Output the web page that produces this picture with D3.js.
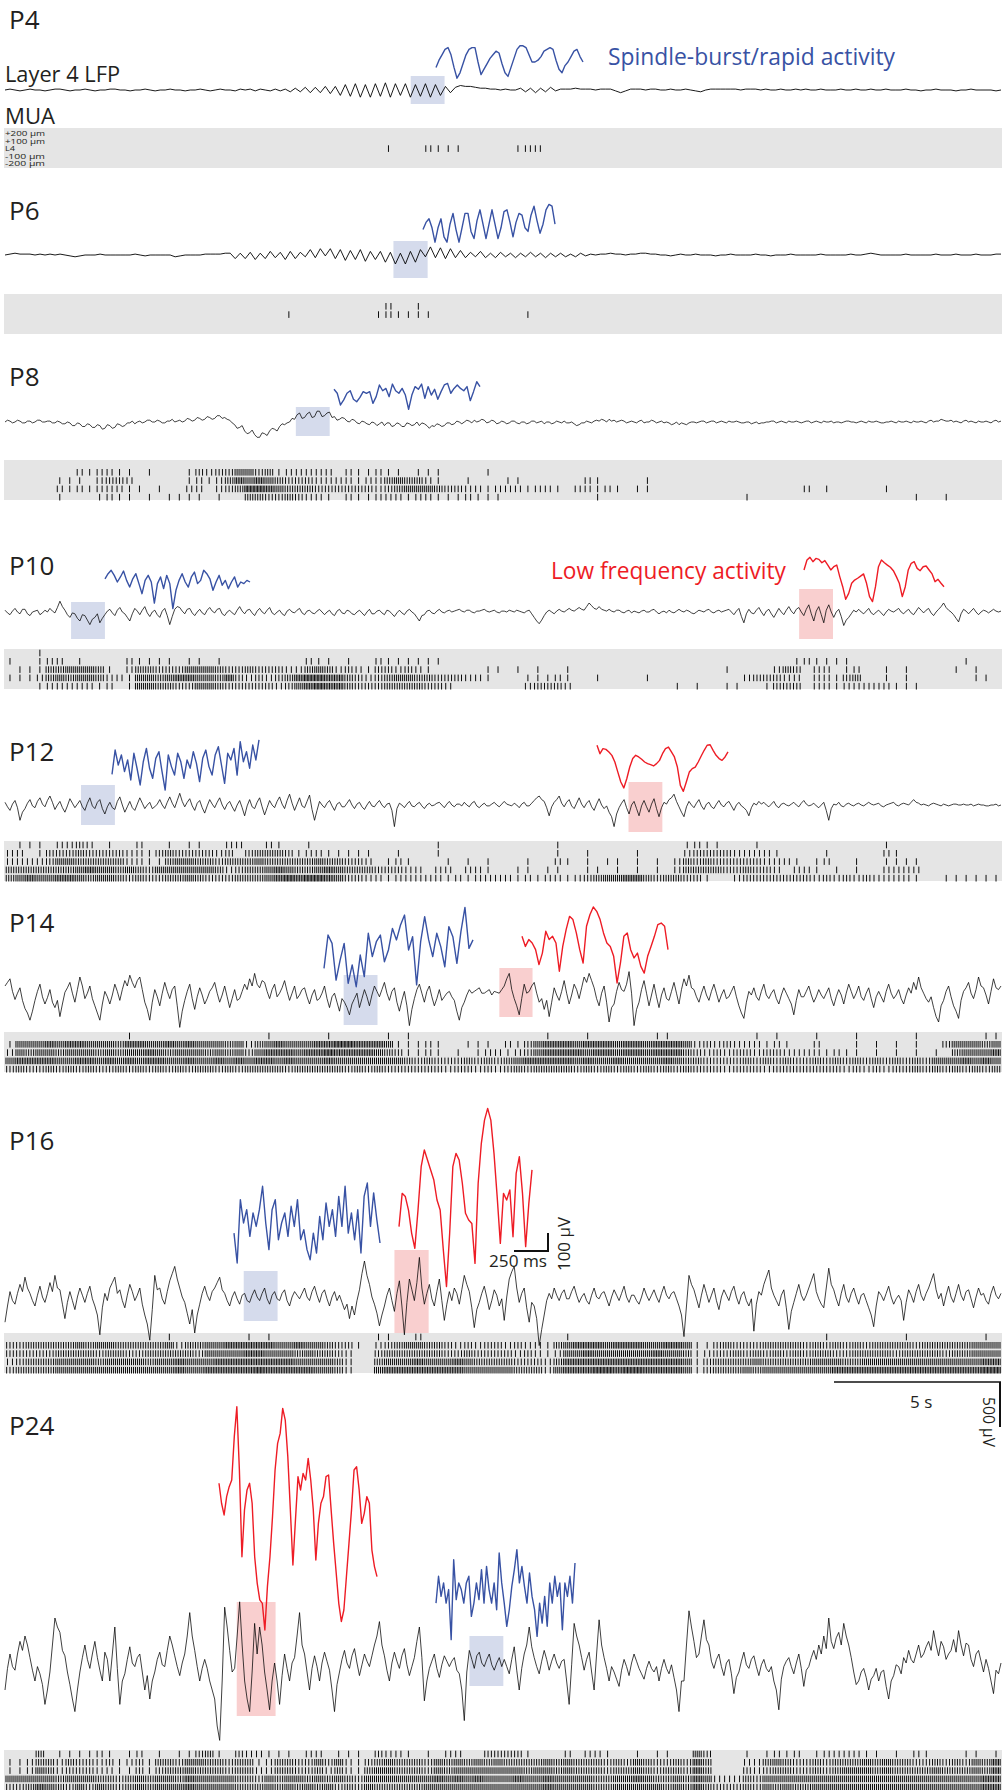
<!DOCTYPE html>
<html>
<head>
<meta charset="utf-8">
<script src="https://cdn.jsdelivr.net/npm/d3@7"></script>
<style>
  html, body { margin: 0; padding: 0; background: #fff; }
  svg text { font-family: "Open Sans", "Noto Sans", sans-serif; fill: #231f20; }
</style>
</head>
<body>
<div id="chart"></div>
<script>
// Recording length (s) shown by every row
var TRACE_SECONDS = 30;
var MUA_BIN_S = 0.3;          // each raster digit = spike count in a 0.3 s bin
var LFP_UNIT_UV = 10;         // LFP arrays are stored in units of 10 µV

// ---------- layer 4 LFP (units of 10 µV), evenly spaced over the 30 s ----------
var P4_LFP = [0,1,0,-1,0,1,0,0,-1,0,1,1,0,-1,0,0,1,0,-1,0,
  0,1,1,0,0,-1,0,0,1,0,-1,0,0,1,0,0,-1,0,0,1,
  0,-1,0,1,0,0,-1,1,0,1,-1,1,0,-1,1,-1,1,
  -2,2,-2,3,-3,3,-3,4,-4,4,
  -6,6,-7,7,-8,6,-8,7,-7,8,-8,7,-6,7,-8,6,-7,7,-8,6,-6,
  4,-3,3,5, 4,4,3,2,2,1,1,0,1,0,0,
  2,-2,2,-3,2,-2,3,-1,1, 1,1,2,1,1,1,0,1,1,1, -1,-3,-1,
  1,1,1,0,1,1,0,0,1,0,0,1,0,-1,-2,0,1,1,1,1,1,1,0,1,1,
  1,0,1,0,0,1,0,0,1,0,1,0,0,1,0,0,0,1,0,0,1,0,0,1,0,
  0,1,0,0,0,1,0,0,-1,0,0,1,0,0,0,-1,0,0,1,0,0,0,0,-1,0];

var P6_LFP = [0,1,2,1,1,1,0,1,0,1,0,1,0,-1,-2,-1,0,0,0,1,
  0,0,0,0,0,0,1,0,-1,0,0,0,0,0,-2,-1,0,0,0,0,
  1,1,1,1,2,2,
  -4,2,-4,3,-5,2,-4,4,-3,3,-5,4,-4,3,
  -2,6,-3,7,-1,7,
  -4,6,-6,5,-5,6,-7,4,-5,4,
  -8,3,-10,2,-10,4,-8,6,
  -2,9,-3,8,-4,7,-3,5,
  -3,3,-2,4,-3,2,-3,3,-2,2,-3,2,-2,3,-2,2,-3,2,-2,2,-2,1,-2,2,-1,1,0,
  1,1,2,1,1,0,1,1,2,2,1,1,0,0,-1,0,1,0,0,1,0,
  0,0,-1,0,0,1,0,0,0,0,1,0,0,-1,0,0,0,1,0,0,0,0,0,1,0,0,0,0,0,1,
  0,0,1,2,1,0,0,0,0,0,1,0,0,0,0,0,1,0,0,0,1,0,0,0,1,0,0,0,1,1];

var P8_LFP = [0,2,1,-1,0,2,1,-1,-1,1,1,-1,0,2,2,0,0,1,1,-1,-1,1,0,-2,
  -2,0,-1,-4,-4,-1,-2,-5,-5,-2,-3,-6,-6,-3,-4,-8,-7,-3,-4,-7,-6,-2,-3,-5,-4,-1,
  -1,1,-2,0,1,-1,0,2,2,0,0,2,1,-1,-1,1,1,3,0,1,2,0,
  1,4,3,1,2,5,4,2,3,6,5,3,4,7,7,4,5,3,
  2,-1,-3,-7,-6,-4,-10,-13,-12,-9,-14,-17,-17,-12,-13,-15,-10,-7,-8,-10,-5,-2,-3,-1,0,4,
  3,8,10,4,5,9,11,5,6,12,12,6,7,10,11,5,
  6,2,3,5,4,1,0,3,2,-1,-2,1,0,-2,-3,0,-1,-4,-2,0,
  -4,-1,-1,-5,-4,-1,-2,-5,-5,-1,-2,-4,-3,0,-4,-1,-2,-4,-7,-4,
  -5,-2,-3,-5,-4,-1,-1,-3,-2,1,0,-2,0,2,1,-1,2,0,1,3,
  2,-1,0,2,1,-2,-1,1,0,-2,-1,1,1,-1,-2,0,0,-2,-1,1,1,-1,0,1,-2,0,0,-2,-1,1,0,-1,1,-1,-1,0,-2,-4,-3,-1,-1,1,0,-1,1,2,
  1,3,2,0,3,1,2,0,1,2,1,-1,0,1,0,-1,1,2,-1,0,0,2,1,-1,0,1,-1,0,-1,-3,-2,0,-3,-1,-2,-3,-1,0,0,-1,0,1,
  1,-1,0,1,1,-1,0,1,0,-1,1,0,0,1,0,-1,-1,0,0,-2,-1,0,-2,-1,-1,0,0,1,1,-1,0,1,0,-1,1,0,0,1,0,-1,
  0,1,1,-1,0,1,0,-1,1,0,0,1,-1,0,0,-1,0,1,1,0,0,-1,0,1,0,-1,1,0,0,1,0,-1,-1,0,0,1,0,-1,1,0,
  0,1,0,-1,1,0,0,1,0,-1,1,2,0,1,1,3,2,1,1,2,0,1,0,-1,1,2,0,1,0,-1,1,0,0,1,0,-1,1,2,0,1];

var P10_LFP = [2,-1,-3,1,4,0,-2,3,3,-2,-4,0,1,2,-3,-1,2,0,4,1,-1,5,12,6,2,-3,
  -6,-1,-2,-7,-10,-3,-4,-9,-14,-8,-6,-2,-12,-7,-3,1,
  3,-1,-4,2,5,0,-2,-6,-10,-2,4,1,-3,2,6,-1,-5,0,2,-3,-6,1,4,-4,-14,-5,3,6,
  5,1,-2,3,4,-1,-4,0,3,-1,-3,2,5,1,-1,3,4,-2,-4,0,2,-1,-3,2,6,1,-2,2,3,-1,-4,1,4,0,-2,2,5,-1,-3,0,2,-2,-4,1,3,0,-1,2,4,-1,-3,1,2,-1,-2,1,3,0,
  -3,0,2,-2,-4,1,3,-1,-2,2,1,-2,-3,0,2,-1,-4,0,3,-2,-2,1,2,-1,-3,2,1,-2,-5,-1,2,-1,-3,1,3,0,-2,-6,-10,-4,-3,1,2,-1,-2,1,3,0,-1,1,
  2,0,1,2,3,1,0,2,2,0,-1,1,1,2,3,1,0,1,2,0,-1,1,1,0,2,1,0,2,1,0,-1,1,2,-2,
  -6,-10,-13,-9,-4,0,
  2,0,-2,1,3,1,0,2,4,2,1,3,5,3,2,6,10,7,4,3,6,3,2,1,
  3,1,0,2,2,0,-1,1,2,-1,1,0,-1,1,2,0,0,2,3,0,-2,0,1,-1,2,0,-1,1,3,1,0,2,1,-1,-2,0,2,1,0,2,3,0,-1,1,2,0,1,2,3,0,
  -3,1,4,-5,-12,-2,3,-1,-2,2,5,0,-4,1,3,-2,-6,-1,4,0,-3,2,6,1,-2,3,5,0,
  -4,3,8,-2,-10,1,6,-3,-12,2,8,0,-6,0,3,-5,
  -15,-9,-6,-2,2,0,
  3,0,-2,1,4,-1,-3,0,2,-1,-4,0,3,1,0,2,4,0,-2,1,3,-1,-3,1,5,2,-1,2,4,-1,-4,0,3,6,10,5,2,0,-3,-7,-11,-2,3,1,-2,1,4,0,-3,0,2,1,-1,1,3,1,0,1];

var P12_LFP = [3,-2,-6,1,5,-3,-17,-8,-4,2,6,-1,-3,4,8,1,-2,5,10,3,-5,0,4,-3,-8,-1,7,2,-3,1,5,-2,
  -6,2,8,-1,-4,3,6,-4,-10,-2,3,-3,-5,4,9,0,-8,-2,4,-3,-6,1,8,2,-4,0,3,-4,-2,1,
  6,0,-4,3,9,2,-3,5,13,4,-2,3,7,-1,-6,2,5,-3,-9,-1,6,1,-3,3,8,0,-5,1,4,-2,
  -7,0,5,-3,-12,-1,6,-2,-4,3,8,-2,-11,-3,5,0,-3,4,9,1,-4,5,12,2,-6,1,8,-1,-3,4,11,-5,-17,-6,
  4,0,-3,2,5,-1,-6,1,3,-2,-2,2,6,0,-4,1,3,-2,-5,0,4,-1,-2,2,5,0,-3,1,2,-6,-24,-4,
  2,0,-3,1,4,-1,-2,1,3,-1,-4,0,2,-1,0,2,3,0,-3,1,4,0,-2,1,1,-1,3,0,-2,2,4,-1,-3,0,2,-1,-1,1,3,0,-2,1,4,1,0,-1,2,0,-3,1,3,-1,-1,2,5,8,10,6,4,-3,-12,-2,
  3,6,10,2,-2,3,6,-1,-4,2,8,1,-3,2,5,-2,-6,1,7,0,-4,-1,-8,-13,-24,-10,
  -3,2,6,-3,-10,0,4,-4,-12,-1,5,-2,-8,1,7,-4,-13,-3,3,1,6,8,12,4,
  -2,-8,-13,-2,4,0,-3,2,6,-1,-5,1,3,-2,-4,1,5,0,-2,2,4,-1,-6,0,3,-1,-3,-6,-12,-3,2,0,4,1,
  3,0,-2,1,4,-1,-3,1,2,0,-1,1,3,0,-2,2,5,1,-1,0,2,-1,-3,0,3,-6,-17,-4,1,0,3,-1,-2,1,2,0,-1,1,
  2,0,-1,1,3,1,0,1,2,-1,-2,0,1,2,3,0,-1,1,2,1,0,3,6,3,2,0,1,0,-1,1,2,1,0,-1,1,0,-1,0,1,1,0,0,1,0,0,1,-1,0,1,0,0,-1,-1,0,0,1,-1,0];

var P14_LFP = [10,14,18,4,-5,2,8,-6,-15,-20,-28,-18,-6,4,12,-2,-10,-3,6,-8,
  -14,-6,-24,-10,3,8,14,2,-8,6,20,10,-4,2,10,-4,-12,-20,-28,-10,
  4,-2,-10,0,12,4,-6,6,16,10,22,14,8,16,20,6,-8,-16,-28,-8,
  6,-2,-12,2,14,4,-4,6,10,-12,-36,-18,-6,4,12,-4,-16,-2,8,0,
  -10,-4,4,8,14,2,-8,0,10,-2,-14,-4,6,-6,-4,4,12,6,18,10,
  24,12,8,16,14,4,-4,6,12,-2,2,8,16,4,-6,2,10,-4,0,6,
  8,-2,-10,0,6,-6,-4,2,10,-4,-14,-2,2,-8,-18,-4,-8,-14,-22,-10,
  -4,2,-14,-4,6,-2,-12,0,10,4,-2,6,14,2,-6,4,8,-8,-18,-6,
  4,-12,-34,-16,-4,6,12,2,-8,4,10,-2,-12,-4,6,-6,-2,2,4,-2,
  -6,-18,-28,-14,-8,0,6,2,4,6,8,2,2,4,6,0,4,3,2,6,
  10,18,24,6,-4,-12,-22,-4,12,2,4,10,14,2,-8,-4,-16,-6,-24,-8,
  8,0,-6,4,16,2,-10,0,12,6,-4,8,20,14,24,16,8,-4,-12,2,
  10,-8,-30,-14,-10,4,14,6,4,12,26,2,-34,-16,-8,6,16,2,-12,0,
  12,-2,-14,0,8,-4,-6,4,14,2,-10,6,18,10,22,8,6,-2,-8,2,
  10,0,-6,4,12,2,-8,0,6,-4,-2,4,10,-2,-12,-20,-26,-8,4,0,
  8,-2,-6,4,12,0,-4,2,6,-4,-10,0,8,2,-4,-10,-22,-6,6,-2,
  -2,4,10,0,-8,-2,6,0,-4,2,8,-4,-12,-2,6,0,-10,2,12,4,
  -4,2,10,-2,-6,2,8,-4,-14,-2,4,-2,-8,4,12,2,-4,0,6,-4,
  -10,0,8,2,14,6,20,8,2,-4,-8,-2,-14,-24,-30,-12,-6,4,10,-2,
  -12,-18,-26,-6,4,8,14,2,-4,6,20,10,8,0,-10,4,18,8,6,10];

var P16_LFP = [-28,-10,6,-4,-8,4,14,6,22,10,4,-4,-10,2,12,0,-6,4,16,6,
  24,10,8,-8,-24,-6,6,-4,-14,0,10,2,-6,4,12,-2,-10,-20,-42,-12,
  4,-4,10,16,22,4,8,-4,-12,2,14,6,-4,2,10,-8,-20,-30,-48,-14,
  24,8,10,-2,-8,6,18,26,34,20,10,0,-6,-18,-30,-14,-40,-20,-8,4,
  12,2,-4,6,10,16,22,8,4,-4,-10,0,6,-2,-8,2,4,-4,-6,2,
  8,0,-4,4,10,-2,-8,2,6,-2,-4,4,8,-4,-10,0,6,2,-2,4,
  10,0,-4,6,12,2,-6,4,8,-2,-10,0,6,-4,2,-6,-14,-8,-24,-10,
  -20,-4,8,26,40,24,14,0,-8,-18,-32,-20,-10,2,10,-4,-16,4,18,-10,
  -42,-6,20,8,-4,16,44,10,-8,4,14,-2,-10,6,20,-4,-26,-8,6,-4,
  10,4,-8,8,24,14,6,-12,-34,-14,-6,4,12,0,-14,-4,8,2,-10,-2,
  -26,0,20,28,34,10,-6,4,10,-12,-28,-6,-10,-24,-54,-36,-20,-4,4,-2,
  10,2,-4,4,8,-2,-2,6,12,2,-6,0,4,-4,-8,2,10,0,-2,4,
  6,-2,-10,0,8,2,-4,4,12,0,-6,2,2,-4,-8,0,10,2,-4,2,
  8,0,-6,4,12,2,-2,4,6,-2,-10,-20,-44,-10,24,14,8,-2,-12,2,
  14,4,-6,2,10,-4,-14,0,8,2,-4,6,12,0,-8,2,6,-4,-10,-2,
  -38,-8,6,2,14,22,30,10,2,-4,-10,2,8,-12,-36,-16,-6,4,14,2,
  -4,2,10,18,26,6,-2,-8,-12,10,32,14,8,-2,-10,4,14,0,-6,4,
  10,0,-8,2,4,-4,-12,-20,-33,-10,6,2,-4,4,12,0,-8,-2,2,-4,
  -26,-6,8,2,-6,6,14,2,-4,4,10,18,26,8,-2,4,-10,2,12,0,
  -6,4,14,2,-4,6,8,-2,-12,0,10,2,4,-4,-8,4,12,2,-2,4];

var P24_LFP = [-30,-6,10,-4,-8,10,24,14,30,20,6,-8,-20,-4,-12,-24,-46,-30,-10,20,
  50,40,34,14,8,-10,-24,-40,-54,-30,-10,6,20,4,-6,10,24,6,-8,-20,
  12,4,-20,10,40,-6,-46,-20,-12,4,18,0,-4,6,10,-10,-30,-14,-40,-20,
  -10,4,12,-2,-4,14,30,20,8,-4,-14,0,10,30,56,30,14,-4,-20,-6,
  4,-6,-20,-30,-40,-70,-86,-20,62,40,14,-10,-6,30,68,20,-20,-40,-54,-10,
  44,10,40,20,-10,-30,-52,-20,0,-20,-46,-14,10,-6,-20,0,6,30,56,20,
  10,-10,-30,-6,8,-4,-20,0,12,2,-8,-30,-54,-24,-10,4,14,0,-6,8,
  16,0,-14,-2,10,2,-4,8,20,30,46,20,8,-8,-20,0,12,2,-6,8,
  16,-2,-14,-4,6,24,40,6,-42,-20,-6,2,10,-6,-16,-2,8,2,-4,2,
  6,-8,-12,-30,-64,-10,14,4,-6,8,12,0,-4,4,10,-2,-8,0,6,-4,
  4,-4,-12,4,18,-8,-30,-6,10,20,40,18,6,-4,-12,2,14,4,-8,2,
  10,0,-6,2,4,-20,-46,-2,44,30,20,6,-8,4,12,-10,-30,10,48,20,
  6,-6,-20,-4,-10,-18,-26,-8,4,-4,-14,0,10,2,-6,-12,-18,-6,2,-6,
  -10,-4,-20,-6,4,-6,-12,-2,-16,-30,-54,-20,-20,20,58,40,24,6,10,30,
  48,26,20,2,-6,4,10,-4,-14,0,4,-12,-34,-16,-10,2,12,-2,-6,4,
  8,-4,-14,-2,4,-6,-10,-4,-20,-30,-52,-18,-4,2,6,-4,-12,0,10,-6,
  -26,-8,-4,6,14,4,20,10,30,16,50,24,16,28,34,20,44,30,20,6,
  -10,-24,-20,-10,-6,-16,-30,-18,-14,-6,-20,-10,-8,-26,-40,-20,-14,-2,-4,-12,
  6,0,14,4,0,10,20,6,10,18,24,14,36,20,8,24,18,4,10,14,
  26,12,36,20,8,22,20,4,-4,10,14,2,-10,4,-6,-20,-34,-8,-12,0];

// ---------- expanded 1 s windows (µV) ----------
var P4_SPINDLE = [-30,10,40,70,80,40,-30,-90,-60,-10,40,70,80,80,0,-70,-40,-10,20,40,60,50,-10,-60,-80,-30,20,70,90,90,80,40,0,0,10,30,60,70,80,70,10,-40,-60,-20,0,30,60,70,30,0];
var P6_SPINDLE = [-20,20,40,-10,-90,-10,40,-60,-90,10,70,-20,-90,-10,70,70,-30,-70,30,90,10,-70,10,90,10,-70,-10,80,90,20,-60,20,70,60,-10,-30,60,110,30,-40,10,90,120,110,10];
var P8_SPINDLE = [15,-7,-72,-44,-7,7,-40,-54,-30,2,-7,2,-63,-26,39,7,20,-26,44,7,-7,20,-17,-96,-17,30,15,44,-35,30,-17,15,-40,2,39,48,-7,20,39,20,7,30,-48,2,57,30];
var P10_SPINDLE = [18,46,65,37,0,28,61,9,-28,18,46,-9,-65,9,37,0,-117,-9,28,-37,37,-9,-148,-46,9,46,0,-28,28,55,-9,9,65,46,18,-46,0,37,-18,9,-37,0,28,-28,0,-9,9,0];
var P10_SLOW = [28,83,98,74,92,87,68,80,55,28,46,55,-9,-65,-135,-102,-46,-28,-18,-6,6,-46,-120,-148,-65,46,83,68,55,43,24,-9,-46,-120,-65,28,65,74,37,24,46,50,28,6,-37,-24,-46,-65];
var P12_SPINDLE = [-52,83,0,56,-37,28,-83,65,-18,-111,18,92,-18,-74,37,74,-37,-139,56,-9,-56,65,18,-74,28,-18,74,9,-92,37,83,-9,-56,56,102,0,-102,65,28,92,-56,130,18,74,-18,111,28,139];
var P12_SLOW = [93,46,74,70,56,37,0,-56,-111,-144,-93,-28,19,37,28,15,0,-9,-15,-22,-9,9,46,74,83,56,28,-28,-130,-163,-111,-56,-37,-28,0,33,65,93,96,65,37,19,9,28,56];
var P14_SPINDLE = [-102,83,37,-167,-56,37,-185,-83,-204,-28,-148,93,-37,46,83,-65,0,120,56,139,194,0,74,-194,46,185,56,-37,93,19,-93,130,74,-74,102,237,9,56];
var P14_SLOW = [37,-19,19,0,-37,-120,-56,65,19,37,0,-157,-19,74,148,130,56,-37,-111,93,157,200,176,130,56,0,-19,-74,-222,-111,37,56,-37,-83,-56,-130,-167,-74,-19,37,102,111,93,-37];
var P16_SPINDLE = [-56,-222,130,0,74,-74,56,-19,74,204,0,-148,74,130,-93,0,56,-74,93,-19,130,-93,-37,-148,-204,-56,-167,37,-93,111,-19,74,-74,148,-19,204,-56,56,-93,74,-167,148,222,-19,167,19,-111];
var P16_SLOW = [-148,37,19,-56,-185,-268,-56,185,278,222,167,111,0,-56,-278,-481,-185,185,259,222,93,-74,-111,-130,-352,93,315,444,509,444,259,19,-241,37,0,56,-204,148,241,37,-259,-19,167];
var P24_SLOW = [204,93,28,130,185,222,463,629,278,-204,56,167,204,93,-204,-352,-444,-463,-611,-370,-204,19,278,426,481,620,555,352,56,-250,0,241,167,259,222,342,222,56,-222,-19,93,130,241,250,56,-130,-296,-463,-564,-500,-315,-130,56,278,296,167,-19,37,130,93,-167,-259,-315];
var P24_SPINDLE = [-56,93,-19,56,-56,19,-259,185,-37,56,19,-56,56,93,-130,-56,56,-37,130,-56,148,19,-56,56,-93,222,56,-56,-185,-93,37,130,241,56,148,37,-56,111,-19,-93,-241,-56,-167,-19,-185,56,-56,93,-19,56,-204,56,-19,93,-56,167];

// ---------- MUA raster: 5 depths (+200, +100, L4, -100, -200 µm), spikes per 0.3 s bin ----------
var EMPTY = "0000000000 0000000000 0000000000 0000000000 0000000000 0000000000 0000000000 0000000000 0000000000 0000000000";
var P4_MUA = [EMPTY, EMPTY,
  "0000000000 0000000000 0000000000 0000000010 0021110000 0122000000 0000000000 0000000000 0000000000 0000000000",
  EMPTY, EMPTY];
var P6_MUA = [EMPTY,
  "0000000000 0000000000 0000000000 0000000020 0100000000 0000000000 0000000000 0000000000 0000000000 0000000000",
  "0000000000 0000000000 0000000010 0000000121 1110000000 0010000000 0000000000 0000000000 0000000000 0000000000",
  EMPTY, EMPTY];
var P8_MUA = [EMPTY,
  "0000000212 2110100013 2335534122 2220211211 0111000010 0000000000 0000000000 0000000000 0000000000 0000000000",
  "0000011102 3320000012 1246565433 3222212245 4421001000 1100000021 0000100000 0000000000 0000000000 0000000000",
  "0000021212 2211010022 0234776544 4333333234 5554332212 2212210221 2101100000 0000000000 2010000010 0000000000",
  "0000010001 2110101111 0100443343 2210211222 1221112111 0000000001 0000000000 0000100000 0000000000 0100100000"];
var P10_MUA = [
  "0001000000 0000000000 0000000000 0000000000 0000000000 0000000000 0000000000 0000000000 0000000000 0000000000",
  "1001220100 0021111011 0100000000 2110100211 1111000000 0000000000 0000000000 0000000001 2111100000 0000001000",
  "0111445554 1024433355 5433433322 4542321332 3210000011 0101001000 0000000000 0010000243 0220120010 1000010100",
  "1112454554 2215545665 5463232346 7766432345 5443332210 0011121001 0000100000 0000233322 0221340010 1000000110",
  "0001222221 2015544335 5433333235 6766433344 4433200000 0023332000 0000000101 0011001333 0221222221 1100000000"];
var P12_MUA = [
  "0111022320 1002001011 0022002100 1000000000 0001000000 0000010000 0000000012 1100010000 0000000010 0000000000",
  "2201333433 3322134333 3230344431 2211111001 0001000000 0000010010 0001000023 3332222100 0010000021 0000000000",
  "2222355444 4422114554 4344454444 4544332012 1000101010 0010021010 1101010243 4333332221 0120010011 1100000000",
  "4444444565 5454355555 5423445654 4565444333 2202202210 0110110011 0101010244 4433433202 2101010022 2200000000",
  "4565566545 5434334454 3334445676 7765332212 2222121222 2121221234 5566434433 1002333333 3232323222 2100111111"];
var P14_MUA = [
  "0000000000 0010000000 0000001000 0010000010 1000000000 0000100010 0000011000 0000010100 0100010000 0100000011",
  "1555656655 5466556565 5545245655 5667766651 1121001110 2135666566 6566566652 3232221210 0200010101 0100355545",
  "2545545554 5455654555 4545356665 6676666543 1121010122 1235666656 6566566643 2323323322 2212110101 0101045556",
  "5666655665 6565665565 5656566565 5565555555 4343334343 4566666565 5655556544 3333434343 3434343434 3435556565",
  "3433434343 3434343434 4343444434 4444343433 3333233232 3434444343 4343434343 3323332333 3333232323 3434343434"];
var P16_MUA = [
  "0000000000 0000001000 0000101000 0000000110 0200000000 0000001000 0000000000 0000000000 0010000000 1000000010",
  "3344444545 5444445244 5566666556 5543310234 5544323233 2322145666 5666556651 1343334444 3434343444 4344444555",
  "3333344443 4433444443 5555665554 5443200344 4444334333 3232125565 5555565541 2334343434 3443344443 4444344555",
  "2344455554 5555455655 5666666665 5554200455 5655565444 4333246666 6666666651 3444454444 4555445555 5555555566",
  "3444455555 5555555655 6666676666 6554200566 6666665555 5444256667 7677666651 3444545555 5556666666 6666666677"];
var P24_MUA = [
  "0004011112 1012010113 4103221110 2201110322 1010220033 3310002022 1001011005 3000101212 0122221101 0210001101",
  "1124424332 3123144355 4434412443 3535213454 4435454545 4444545444 3435433436 4000224543 3434445454 4334343546",
  "1125423332 2113134454 4434422443 3424214554 4435455555 5545545444 3445434436 4000323443 3434555454 4445444546",
  "5555545554 4345455465 5554435455 4545435555 5556565655 5655655554 4556544546 5222435555 5555555555 5555555566",
  "3346543535 4345455565 5554445454 5453435444 4455555555 5555655554 4555554546 4333435454 4555555555 5555555566"];

var DEPTH_LABELS = ["+200 \u00b5m", "+100 \u00b5m", "L4", "-100 \u00b5m", "-200 \u00b5m"];

// ---------- layout ----------
var BLUE = "#3852a4", RED = "#ee1c25";
var BLUE_BOX = "#d5dbec", RED_BOX = "#f9cfcf";
var LFP_PX_PER_UV = 0.09, INSET_PX_PER_UV = 0.18, INSET_PX_PER_S = 136;

var panels = [
  {name: "P4", labelY: 29, lfp: P4_LFP, lfpY: 90, mua: P4_MUA, muaY: 128,
   windows: [{c: BLUE_BOX, t0: 12.22, t1: 13.24, y0: 76, y1: 104}],
   insets: [{c: BLUE, data: P4_SPINDLE, x0: 436, x1: 583, y: 62}]},
  {name: "P6", labelY: 220, lfp: P6_LFP, lfpY: 255, mua: P6_MUA, muaY: 294,
   windows: [{c: BLUE_BOX, t0: 11.70, t1: 12.73, y0: 241, y1: 278}],
   insets: [{c: BLUE, data: P6_SPINDLE, x0: 423, x1: 555, y: 226}]},
  {name: "P8", labelY: 386, lfp: P8_LFP, lfpY: 422, mua: P8_MUA, muaY: 460,
   windows: [{c: BLUE_BOX, t0: 8.76, t1: 9.78, y0: 407, y1: 436}],
   insets: [{c: BLUE, data: P8_SPINDLE, x0: 334, x1: 480, y: 392}]},
  {name: "P10", labelY: 575, lfp: P10_LFP, lfpY: 612, mua: P10_MUA, muaY: 649,
   windows: [{c: BLUE_BOX, t0: 1.99, t1: 3.01, y0: 602, y1: 639},
             {c: RED_BOX, t0: 23.92, t1: 24.94, y0: 589, y1: 639}],
   insets: [{c: BLUE, data: P10_SPINDLE, x0: 105, x1: 250, y: 582},
            {c: RED, data: P10_SLOW, x0: 804, x1: 944, y: 575}]},
  {name: "P12", labelY: 761, lfp: P12_LFP, lfpY: 805, mua: P12_MUA, muaY: 841,
   windows: [{c: BLUE_BOX, t0: 2.29, t1: 3.31, y0: 785, y1: 825},
             {c: RED_BOX, t0: 18.78, t1: 19.80, y0: 782, y1: 832}],
   insets: [{c: BLUE, data: P12_SPINDLE, x0: 112, x1: 259, y: 765},
            {c: RED, data: P12_SLOW, x0: 597, x1: 728, y: 762}]},
  {name: "P14", labelY: 932, lfp: P14_LFP, lfpY: 995, mua: P14_MUA, muaY: 1032,
   windows: [{c: BLUE_BOX, t0: 10.20, t1: 11.22, y0: 975, y1: 1025},
             {c: RED_BOX, t0: 14.89, t1: 15.89, y0: 968, y1: 1017}],
   insets: [{c: BLUE, data: P14_SPINDLE, x0: 324, x1: 473, y: 950},
            {c: RED, data: P14_SLOW, x0: 522, x1: 668, y: 943}]},
  {name: "P16", labelY: 1150, lfp: P16_LFP, lfpY: 1297, mua: P16_MUA, muaY: 1333,
   windows: [{c: BLUE_BOX, t0: 7.19, t1: 8.21, y0: 1271, y1: 1321},
             {c: RED_BOX, t0: 11.73, t1: 12.76, y0: 1250, y1: 1333}],
   insets: [{c: BLUE, data: P16_SPINDLE, x0: 234, x1: 380, y: 1223},
            {c: RED, data: P16_SLOW, x0: 399, x1: 532, y: 1200}]},
  {name: "P24", labelY: 1435, lfp: P24_LFP, lfpY: 1663, mua: P24_MUA, muaY: 1750,
   windows: [{c: RED_BOX, t0: 6.98, t1: 8.15, y0: 1602, y1: 1716},
             {c: BLUE_BOX, t0: 13.99, t1: 15.01, y0: 1636, y1: 1686}],
   insets: [{c: RED, data: P24_SLOW, x0: 219, x1: 377, y: 1520},
            {c: BLUE, data: P24_SPINDLE, x0: 436, x1: 575, y: 1593}]}
];

var W = 1002, H = 1790;
var svg = d3.select("#chart").append("svg")
  .attr("width", W).attr("height", H)
  .attr("viewBox", "0 0 " + W + " " + H);

var x = d3.scaleLinear().domain([0, TRACE_SECONDS]).range([5, 1001]);

panels.forEach(function(p) {
  var g = svg.append("g").attr("class", "panel-" + p.name);

  g.append("text").attr("x", 9).attr("y", p.labelY)
    .style("font-size", "26px").text(p.name);

  // MUA band
  g.append("rect").attr("x", 4).attr("y", p.muaY)
    .attr("width", W - 4).attr("height", 40).attr("fill", "#e5e5e5");

  p.mua.forEach(function(row, r) {
    var bins = row.replace(/ /g, "");
    var cy = p.muaY + 4 + r * 8.3;
    var ticks = [];
    for (var b = 0; b < bins.length; b++) {
      var k = +bins[b];
      for (var j = 0; j < k; j++) ticks.push((b + (j + 0.5) / k) * MUA_BIN_S);
    }
    g.append("g").selectAll("line").data(ticks).join("line")
      .attr("x1", function(t) { return x(t); }).attr("x2", function(t) { return x(t); })
      .attr("y1", cy - 3.3).attr("y2", cy + 3.3)
      .attr("stroke", "#000").attr("stroke-width", 0.95);
  });

  // highlighted 1 s windows
  p.windows.forEach(function(w) {
    g.append("rect").attr("x", x(w.t0)).attr("y", w.y0)
      .attr("width", x(w.t1) - x(w.t0)).attr("height", w.y1 - w.y0)
      .attr("fill", w.c);
  });

  // LFP trace
  var n = p.lfp.length;
  var y = d3.scaleLinear().domain([0, 1]).range([p.lfpY, p.lfpY - LFP_UNIT_UV * LFP_PX_PER_UV]);
  var line = d3.line()
    .x(function(d, i) { return x(i * TRACE_SECONDS / (n - 1)); })
    .y(function(d) { return y(d); });
  g.append("path").datum(p.lfp).attr("d", line)
    .attr("fill", "none").attr("stroke", "#000")
    .attr("stroke-width", n > 200 ? 0.75 : 0.9).attr("stroke-linejoin", "round");

  // expanded insets
  p.insets.forEach(function(ins) {
    var xs = d3.scaleLinear().domain([0, ins.data.length - 1]).range([ins.x0, ins.x1]);
    var ys = d3.scaleLinear().domain([0, 100]).range([ins.y, ins.y - 100 * INSET_PX_PER_UV]);
    g.append("path").datum(ins.data)
      .attr("d", d3.line().x(function(d, i) { return xs(i); }).y(function(d) { return ys(d); }))
      .attr("fill", "none").attr("stroke", ins.c)
      .attr("stroke-width", 1.4).attr("stroke-linejoin", "round");
  });
});

// row titles on P4
svg.append("text").attr("x", 5).attr("y", 82).style("font-size", "22px")
  .attr("textLength", 115).attr("lengthAdjust", "spacingAndGlyphs").text("Layer 4 LFP");
svg.append("text").attr("x", 5).attr("y", 124).style("font-size", "21px")
  .attr("textLength", 50).attr("lengthAdjust", "spacingAndGlyphs").text("MUA");
DEPTH_LABELS.forEach(function(t, i) {
  var yy = [136, 143.5, 151, 158.5, 166][i];
  svg.append("text").attr("x", 5).attr("y", yy).style("font-size", "7.5px")
    .attr("textLength", t === "L4" ? 10 : 40).attr("lengthAdjust", "spacingAndGlyphs").text(t);
});

svg.append("text").attr("x", 608).attr("y", 65).style("font-size", "23px")
  .style("fill", BLUE).attr("textLength", 287).attr("lengthAdjust", "spacingAndGlyphs")
  .text("Spindle-burst/rapid activity");
svg.append("text").attr("x", 551).attr("y", 579).style("font-size", "23px")
  .style("fill", RED).attr("textLength", 235).attr("lengthAdjust", "spacingAndGlyphs")
  .text("Low frequency activity");

// inset scale bar (250 ms / 100 µV)
var sb = svg.append("g").attr("stroke", "#111").attr("stroke-width", 2);
var sbX1 = 548, sbY = 1251;
sb.append("line").attr("x1", sbX1 - 0.25 * INSET_PX_PER_S).attr("x2", sbX1 + 1).attr("y1", sbY).attr("y2", sbY);
sb.append("line").attr("x1", sbX1).attr("x2", sbX1).attr("y1", sbY).attr("y2", sbY - 100 * INSET_PX_PER_UV);
svg.append("text").attr("x", 489).attr("y", 1267).style("font-size", "17px")
  .attr("textLength", 58).attr("lengthAdjust", "spacingAndGlyphs").text("250 ms");
svg.append("text").attr("transform", "translate(570,1271) rotate(-90)")
  .style("font-size", "17px").attr("textLength", 54).attr("lengthAdjust", "spacingAndGlyphs")
  .text("100 \u00b5V");

// trace scale bar (5 s / 500 µV)
var tb = svg.append("g").attr("stroke", "#111");
var tbX1 = 1000, tbY = 1382;
tb.append("line").attr("x1", tbX1 - (x(5) - x(0))).attr("x2", tbX1 + 1).attr("y1", tbY).attr("y2", tbY).attr("stroke-width", 1.5);
tb.append("line").attr("x1", tbX1).attr("x2", tbX1).attr("y1", tbY).attr("y2", tbY + 500 * LFP_PX_PER_UV).attr("stroke-width", 2);
svg.append("text").attr("x", 910).attr("y", 1408).style("font-size", "17px").text("5 s");
svg.append("text").attr("transform", "translate(983,1397) rotate(90)")
  .style("font-size", "17px").attr("textLength", 50).attr("lengthAdjust", "spacingAndGlyphs")
  .text("500 \u00b5V");
</script>
</body>
</html>
